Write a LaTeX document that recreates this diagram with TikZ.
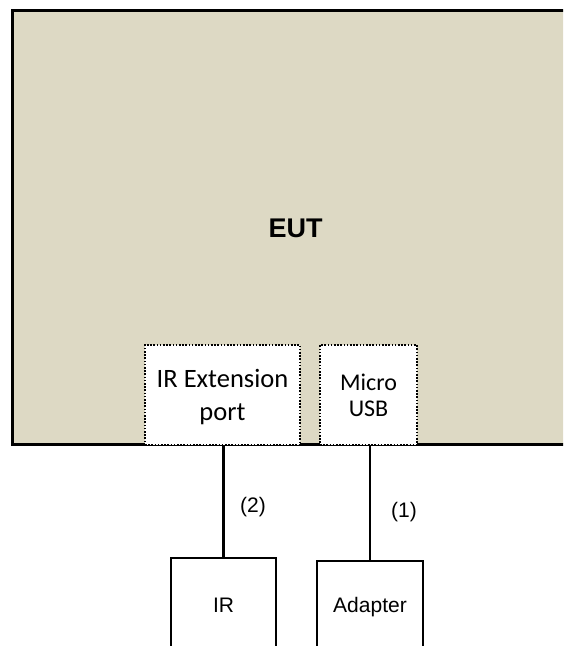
\documentclass[tikz,border=0pt]{standalone}
\usepackage{fontspec}
\setmainfont{Liberation Sans}
\newfontfamily\calib{Carlito}
\definecolor{euttan}{RGB}{221,217,196}
\begin{document}
\begin{tikzpicture}[x=1pt,y=-1pt,
  eutbox/.style={draw=black, line width=3pt, fill=euttan, rectangle, inner sep=0pt},
  portbox/.style={draw=black, line width=1.5pt, dash pattern=on 1.6pt off 1.6pt, fill=white, rectangle, inner sep=0pt, align=center, font=\calib\fontsize{26.5}{33}\selectfont},
  devbox/.style={draw=black, line width=2.2pt, fill=white, rectangle, inner sep=0pt, font=\fontsize{21}{25}\selectfont},
  conn/.style={draw=black, line width=2.2pt},
  lbl/.style={inner sep=0pt, font=\fontsize{21}{25}\selectfont}]
\useasboundingbox (0,0) rectangle (563,646);
\begin{scope}
\clip (0,0) rectangle (563,646);
\node[eutbox, minimum width=563pt, minimum height=434pt] (eut) at (293.5,227) {};
\node[inner sep=0pt, font=\bfseries\fontsize{27}{30}\selectfont] (eutlabel) at (295.5,228.5) {EUT};
\node[portbox, minimum width=155pt, minimum height=100pt] (irport) at (222.5,395) {\rule{0pt}{23pt}IR Extension\\port};
\node[portbox, minimum width=97pt, minimum height=100pt, font=\calib\fontsize{24}{26}\selectfont] (usb) at (368.5,395) {Micro\\USB};
\node[devbox, minimum width=105pt, minimum height=94pt] (ir) at (223.5,605) {IR};
\node[devbox, minimum width=106pt, minimum height=92pt] (adapter) at (370,607) {Adapter};
\draw[conn] (ir.north) -- (ir.north |- irport.south);
\draw[conn] (adapter.north) -- (adapter.north |- usb.south);
\node[lbl] (l2) at (253,507) {(2)};
\node[lbl] (l1) at (404,512) {(1)};
\end{scope}
\end{tikzpicture}
\end{document}
